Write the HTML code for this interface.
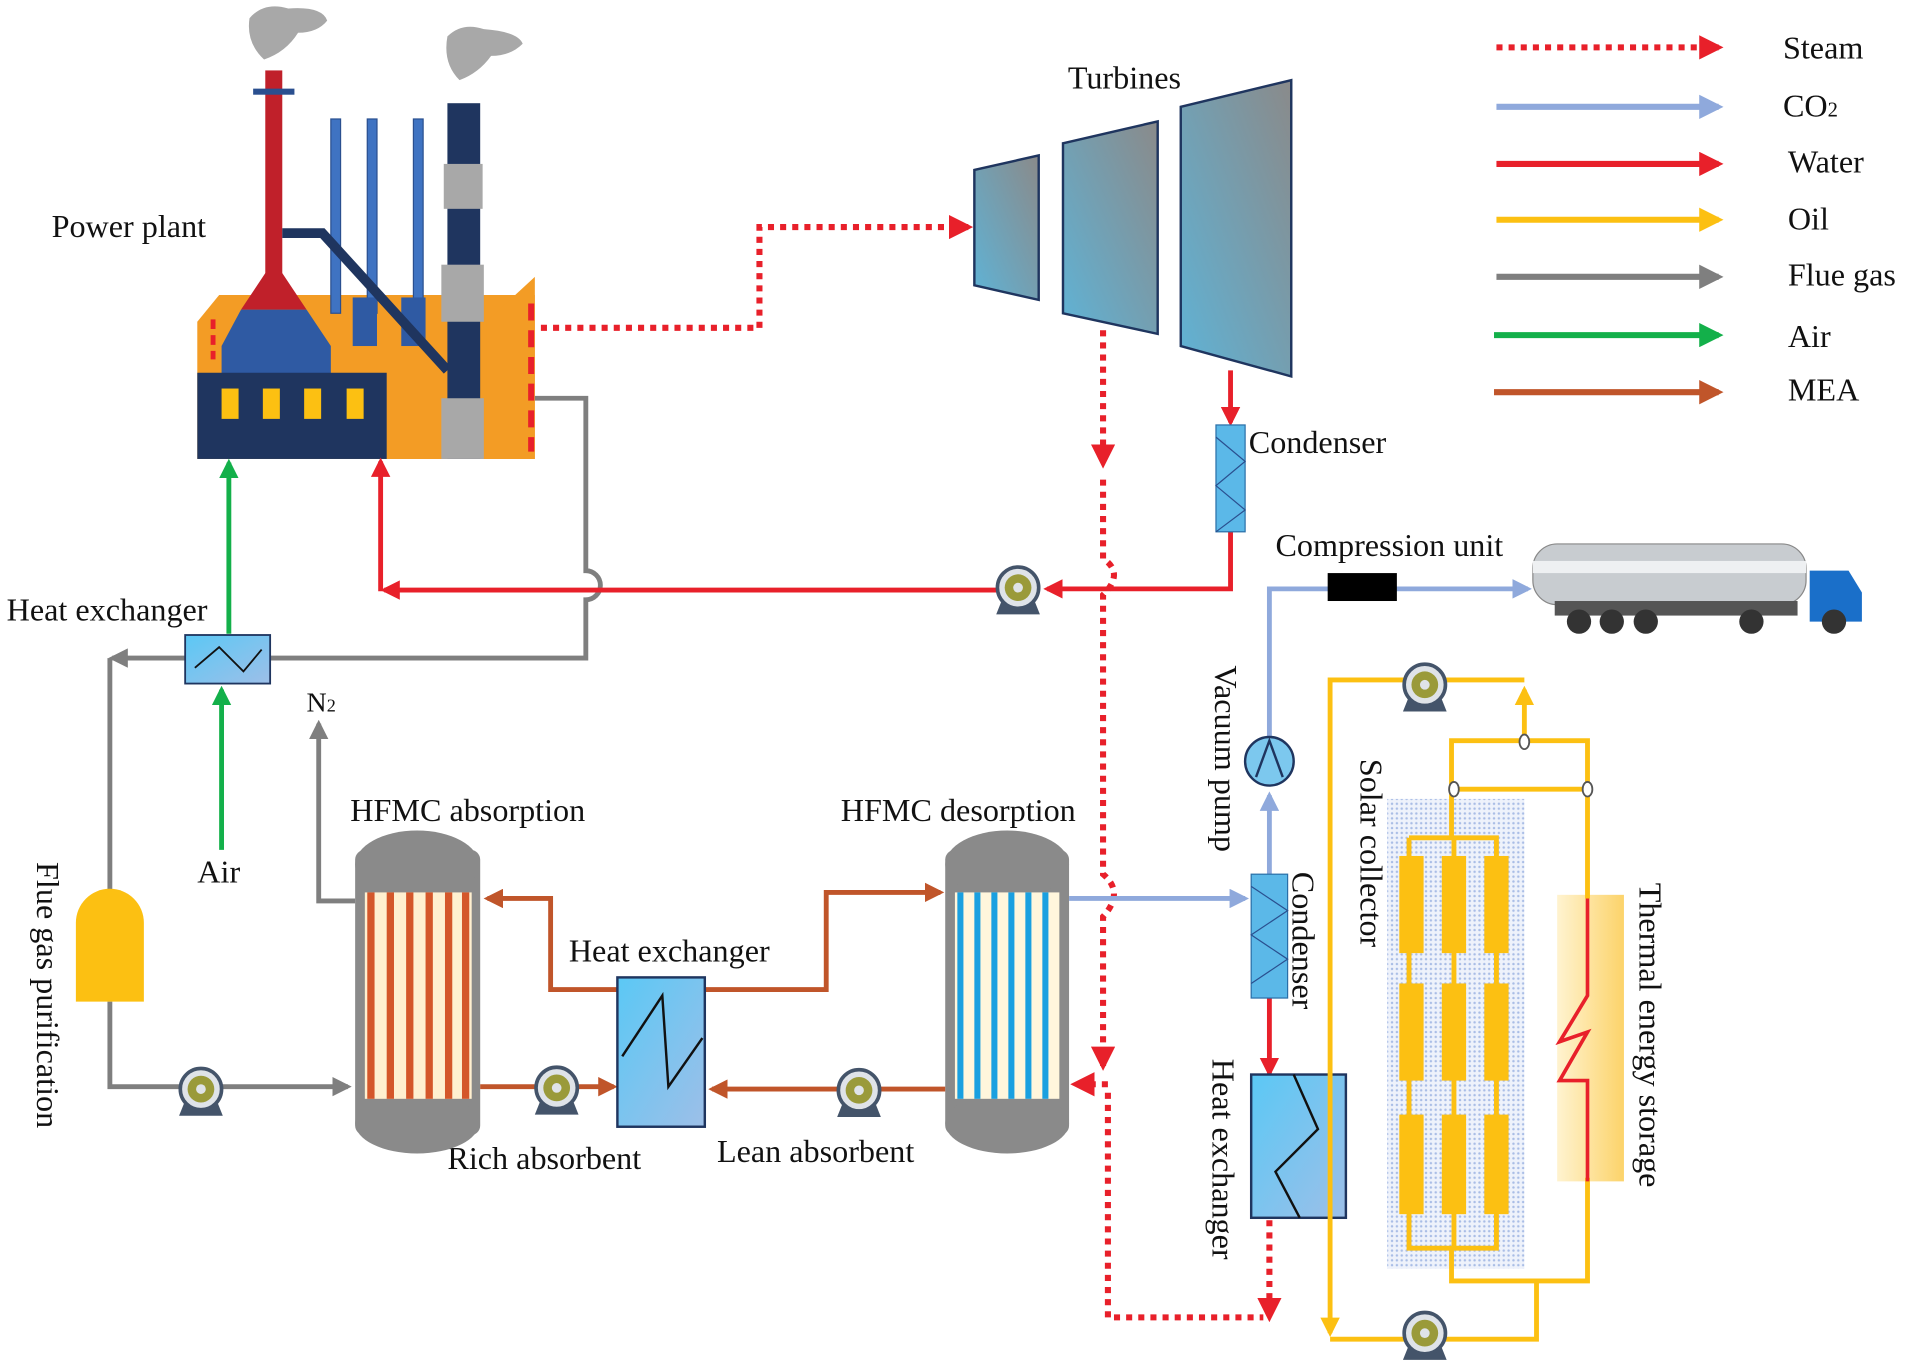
<!DOCTYPE html>
<html><head><meta charset="utf-8"><style>html,body{margin:0;padding:0;background:#fff}svg{display:block}text{font-family:"Liberation Serif",serif;fill:#111}</style></head><body>
<svg width="1905" height="1372" viewBox="0 0 1568 1130" xmlns="http://www.w3.org/2000/svg">
<defs>
<marker id="ar" viewBox="0 0 10 10" refX="8" refY="5" markerWidth="4" markerHeight="4" orient="auto"><path d="M0,0L10,5L0,10z" fill="#e8202a"/></marker>
<marker id="ab" viewBox="0 0 10 10" refX="8" refY="5" markerWidth="4" markerHeight="4" orient="auto"><path d="M0,0L10,5L0,10z" fill="#8fa9dc"/></marker>
<marker id="ay" viewBox="0 0 10 10" refX="8" refY="5" markerWidth="4" markerHeight="4" orient="auto"><path d="M0,0L10,5L0,10z" fill="#fcc012"/></marker>
<marker id="ag" viewBox="0 0 10 10" refX="8" refY="5" markerWidth="4" markerHeight="4" orient="auto"><path d="M0,0L10,5L0,10z" fill="#7f7f7f"/></marker>
<marker id="agr" viewBox="0 0 10 10" refX="8" refY="5" markerWidth="4" markerHeight="4" orient="auto"><path d="M0,0L10,5L0,10z" fill="#13b04a"/></marker>
<marker id="am" viewBox="0 0 10 10" refX="8" refY="5" markerWidth="4" markerHeight="4" orient="auto"><path d="M0,0L10,5L0,10z" fill="#c0552a"/></marker>
<linearGradient id="tg" x1="0" y1="1" x2="1" y2="0"><stop offset="0" stop-color="#5fb3d6"/><stop offset="1" stop-color="#8a8a8a"/></linearGradient>
<linearGradient id="hx" x1="0" y1="0" x2="1" y2="1"><stop offset="0" stop-color="#5bc8f5"/><stop offset="1" stop-color="#9dbfe8"/></linearGradient>
<linearGradient id="ts" x1="0" y1="0" x2="1" y2="0"><stop offset="0" stop-color="#fff3d0"/><stop offset="1" stop-color="#fcd36a"/></linearGradient>
<pattern id="dots" width="4" height="4" patternUnits="userSpaceOnUse"><rect width="4" height="4" fill="#eef2fb"/><circle cx="2" cy="2" r="1" fill="#a9bde6"/></pattern>
<g id="pump"><path d="M-14,12 L14,12 L18,22 L-18,22Z" fill="#44546a"/><circle r="17" fill="#dfe3e8" stroke="#44546a" stroke-width="3"/><circle r="11" fill="#9a9a3a"/><circle r="4" fill="#dfe3e8"/></g>
</defs>

<!-- Legend -->
<g stroke-width="5" fill="none">
<line x1="1232" y1="39" x2="1415" y2="39" stroke="#e8202a" stroke-dasharray="5,5" marker-end="url(#ar)"/>
<line x1="1232" y1="88" x2="1415" y2="88" stroke="#8fa9dc" marker-end="url(#ab)"/>
<line x1="1232" y1="135" x2="1415" y2="135" stroke="#e8202a" marker-end="url(#ar)"/>
<line x1="1232" y1="181" x2="1415" y2="181" stroke="#fcc012" marker-end="url(#ay)"/>
<line x1="1232" y1="228" x2="1415" y2="228" stroke="#7f7f7f" marker-end="url(#ag)"/>
<line x1="1230" y1="276" x2="1415" y2="276" stroke="#13b04a" marker-end="url(#agr)"/>
<line x1="1230" y1="323" x2="1415" y2="323" stroke="#c0552a" marker-end="url(#am)"/>
</g>
<g font-size="26.5">
<text x="1468" y="48">Steam</text><text x="1468" y="96">CO<tspan font-size="17">2</tspan></text>
<text x="1472" y="142">Water</text><text x="1472" y="189">Oil</text><text x="1472" y="235">Flue gas</text>
<text x="1472" y="286">Air</text><text x="1472" y="330">MEA</text>
<text x="42" y="195">Power plant</text><text x="879" y="73">Turbines</text>
<text x="1028" y="373">Condenser</text><text x="1050" y="458">Compression unit</text>
<text x="5" y="511">Heat exchanger</text><text x="252" y="586" font-size="23">N<tspan font-size="15">2</tspan></text>
<text x="162" y="727">Air</text><text x="288" y="676">HFMC absorption</text><text x="692" y="676">HFMC desorption</text>
<text x="468" y="792">Heat exchanger</text><text x="368" y="963">Rich absorbent</text><text x="590" y="957">Lean absorbent</text>
<text transform="translate(30,710) rotate(90)">Flue gas purification</text>
<text transform="translate(1000,548) rotate(90)">Vacuum pump</text>
<text transform="translate(1064,718) rotate(90)">Condenser</text>
<text transform="translate(998,872) rotate(90)">Heat exchanger</text>
<text transform="translate(1120,625) rotate(90)">Solar collector</text>
<text transform="translate(1350,727) rotate(90)">Thermal energy storage</text>
</g>

<!-- Power plant -->
<path d="M205,15 q12,-14 32,-8 q28,-2 32,10 q-8,10 -24,10 q-10,16 -28,22 q-15,-14 -12,-34z" fill="#a8a8a8"/>
<path d="M368,30 q12,-12 30,-6 q28,2 32,12 q-10,10 -26,10 q-10,14 -26,20 q-14,-14 -10,-36z" fill="#a8a8a8"/>
<polygon points="162,265 180,243 440,243 440,378 162,378" fill="#f39c25"/>
<polygon points="400,265 440,228 440,378 400,378" fill="#f39c25"/>
<rect x="272" y="98" width="8" height="160" fill="#3f73c2" stroke="#2a4f8f"/>
<rect x="302" y="98" width="8" height="160" fill="#3f73c2" stroke="#2a4f8f"/>
<rect x="340" y="98" width="8" height="160" fill="#3f73c2" stroke="#2a4f8f"/>
<rect x="290" y="245" width="20" height="40" fill="#2f5aa3"/><rect x="330" y="245" width="20" height="40" fill="#2f5aa3"/>
<rect x="218" y="58" width="14" height="175" fill="#c0202a"/><rect x="208" y="73" width="34" height="5" fill="#2a4f8f"/>
<polygon points="218,225 232,225 252,255 198,255" fill="#c0202a"/>
<polygon points="198,255 252,255 272,285 272,310 182,310 182,285" fill="#2f5aa3"/>
<polyline points="232,192 265,192 368,305" fill="none" stroke="#1f355f" stroke-width="8"/>
<rect x="368" y="85" width="27" height="293" fill="#1f355f"/>
<rect x="365" y="135" width="32" height="37" fill="#a8a8a8"/><rect x="363" y="218" width="35" height="47" fill="#a8a8a8"/><rect x="363" y="328" width="35" height="50" fill="#a8a8a8"/>
<rect x="162" y="307" width="156" height="71" fill="#1f355f"/>
<g fill="#fcc012"><rect x="182" y="320" width="14" height="25"/><rect x="216" y="320" width="14" height="25"/><rect x="250" y="320" width="14" height="25"/><rect x="285" y="320" width="14" height="25"/></g>
<line x1="437" y1="250" x2="437" y2="372" stroke="#e8202a" stroke-width="5" stroke-dasharray="14,8"/>
<line x1="175" y1="263" x2="175" y2="296" stroke="#e8202a" stroke-width="4" stroke-dasharray="8,5"/>

<!-- Turbines -->
<polygon points="802,140 855,128 855,247 802,235" fill="url(#tg)" stroke="#1f355f" stroke-width="2"/>
<polygon points="875,118 953,100 953,275 875,258" fill="url(#tg)" stroke="#1f355f" stroke-width="2"/>
<polygon points="972,88 1063,66 1063,310 972,285" fill="url(#tg)" stroke="#1f355f" stroke-width="2"/>

<!-- Flue gas gray -->
<g fill="none" stroke="#7f7f7f" stroke-width="4">
<path d="M440,328 H482 V470 a12,12 0 0 1 0,24 V542 H92" marker-end="url(#ag)"/>
<path d="M90,542 V735"/>
<path d="M90,825 V895 H286" marker-end="url(#ag)"/>
<path d="M292,742 H262 V596" marker-end="url(#ag)"/>
</g>
<rect x="152" y="523" width="70" height="40" fill="url(#hx)" stroke="#1f355f" stroke-width="1.5"/>
<polyline points="160,550 180,533 200,553 215,535" fill="none" stroke="#111" stroke-width="1.5"/>
<path d="M62,825 V760 a28,28 0 0 1 56,0 V825z" fill="#fcc012"/>
<use href="#pump" x="165" y="897"/>

<!-- Air green -->
<g stroke="#13b04a" stroke-width="4" fill="none">
<path d="M182,700 V568" marker-end="url(#agr)"/><path d="M188,522 V381" marker-end="url(#agr)"/>
</g>

<!-- Water red -->
<g stroke="#e8202a" stroke-width="4" fill="none">
<path d="M1013,305 V348" marker-end="url(#ar)"/>
<path d="M1013,438 V485 H862" marker-end="url(#ar)"/>
<path d="M820,486 H316" marker-end="url(#ar)"/>
<path d="M313,487 V380" marker-end="url(#ar)"/>
<path d="M1045,822 V884" marker-end="url(#ar)"/>
</g>
<rect x="1001" y="350" width="24" height="88" fill="#5bb8e8" stroke="#2a6fa8"/>
<polyline points="1001,360 1025,380 1001,400 1025,420 1001,438" fill="none" stroke="#2a4f8f"/>
<use href="#pump" x="838" y="484"/>

<!-- Steam -->
<g stroke="#e8202a" stroke-width="5" fill="none" stroke-dasharray="5,5">
<path d="M445,270 H625 V187 H797" marker-end="url(#ar)"/>
<path d="M908,272 V382" marker-end="url(#ar)"/>
<path d="M908,395 V460 q18,12 0,30 V720 q18,15 0,35 V878" marker-end="url(#ar)"/>
<path d="M912,893 H885" marker-end="url(#ar)"/>
<path d="M912,900 V1085 H1040"/>
<path d="M1045,1005 V1085" marker-end="url(#ar)"/>
</g>

<!-- Columns -->
<g>
<rect x="292" y="700" width="103" height="235" rx="8" fill="#8a8a8a"/>
<ellipse cx="343" cy="712" rx="51" ry="28" fill="#8a8a8a"/><ellipse cx="343" cy="925" rx="51" ry="25" fill="#8a8a8a"/>
<rect x="300" y="735" width="88" height="170" fill="#fff0d0"/>
<g fill="#d4572a"><rect x="302" y="735" width="6" height="170"/><rect x="318" y="735" width="6" height="170"/><rect x="334" y="735" width="6" height="170"/><rect x="350" y="735" width="6" height="170"/><rect x="366" y="735" width="6" height="170"/><rect x="380" y="735" width="6" height="170"/></g>
<rect x="778" y="700" width="102" height="235" rx="8" fill="#8a8a8a"/>
<ellipse cx="829" cy="712" rx="51" ry="28" fill="#8a8a8a"/><ellipse cx="829" cy="925" rx="51" ry="25" fill="#8a8a8a"/>
<rect x="786" y="735" width="86" height="170" fill="#fff6dc"/>
<g fill="#1aa0e0"><rect x="788" y="735" width="5" height="170"/><rect x="802" y="735" width="5" height="170"/><rect x="816" y="735" width="5" height="170"/><rect x="830" y="735" width="5" height="170"/><rect x="844" y="735" width="5" height="170"/><rect x="858" y="735" width="5" height="170"/></g>
</g>

<!-- MEA -->
<g stroke="#c0552a" stroke-width="4" fill="none">
<path d="M395,895 H440"/><path d="M476,895 H505" marker-end="url(#am)"/>
<path d="M508,815 H453 V740 H401" marker-end="url(#am)"/>
<path d="M580,815 H680 V735 H774" marker-end="url(#am)"/>
<path d="M778,897 H725"/><path d="M690,897 H586" marker-end="url(#am)"/>
</g>
<rect x="508" y="805" width="72" height="123" fill="url(#hx)" stroke="#1f355f" stroke-width="2"/>
<polyline points="512,870 545,820 550,895 578,855" fill="none" stroke="#111" stroke-width="2"/>
<use href="#pump" x="458" y="896"/><use href="#pump" x="707" y="898"/>

<!-- CO2 -->
<g stroke="#8fa9dc" stroke-width="4" fill="none">
<path d="M880,740 H1025" marker-end="url(#ab)"/>
<path d="M1045,720 V655" marker-end="url(#ab)"/>
<path d="M1045,607 V485 H1258" marker-end="url(#ab)"/>
</g>
<rect x="1093" y="472" width="57" height="23" fill="#000"/>
<circle cx="1045" cy="627" r="20" fill="#7cc8ee" stroke="#1f355f" stroke-width="2"/>
<polyline points="1034,640 1045,610 1056,640" fill="none" stroke="#1f355f" stroke-width="2"/>
<rect x="1030" y="720" width="30" height="102" fill="#5bb8e8" stroke="#2a6fa8"/>
<polyline points="1030,730 1060,750 1030,770 1060,790 1030,810" fill="none" stroke="#2a4f8f"/>
<rect x="1030" y="885" width="78" height="118" fill="url(#hx)" stroke="#1f355f" stroke-width="2"/>
<polyline points="1065,885 1085,930 1050,965 1070,1003" fill="none" stroke="#111" stroke-width="2"/>

<!-- Truck -->
<rect x="1262" y="448" width="225" height="50" rx="20" fill="#c8ccd0" stroke="#888"/>
<rect x="1262" y="462" width="225" height="10" fill="#eef0f2"/>
<rect x="1280" y="495" width="200" height="12" fill="#555"/>
<path d="M1490,470 H1522 L1533,488 V512 H1490Z" fill="#1a6fc9"/>
<g fill="#333"><circle cx="1300" cy="512" r="10"/><circle cx="1327" cy="512" r="10"/><circle cx="1355" cy="512" r="10"/><circle cx="1442" cy="512" r="10"/><circle cx="1510" cy="512" r="10"/></g>

<!-- Oil loop -->
<rect x="1142" y="658" width="113" height="387" fill="url(#dots)"/>
<rect x="1282" y="737" width="55" height="236" fill="url(#ts)"/>
<g stroke="#fcc012" stroke-width="4" fill="none">
<path d="M1255,610 V568" marker-end="url(#ay)"/>
<path d="M1255,560 H1095 V1098" marker-end="url(#ay)"/>
<path d="M1195,650 V610 H1307 V740"/><path d="M1195,650 H1307"/>
<path d="M1195,650 V690 M1160,690 H1232 V1028 H1160 V690 M1197,690 V1028 M1195,1028 V1055 H1307 V970"/>
<path d="M1265,1055 V1103 H1095"/>
</g>
<g fill="#fcc012">
<rect x="1152" y="705" width="20" height="80"/><rect x="1187" y="705" width="20" height="80"/><rect x="1222" y="705" width="20" height="80"/>
<rect x="1152" y="810" width="20" height="80"/><rect x="1187" y="810" width="20" height="80"/><rect x="1222" y="810" width="20" height="80"/>
<rect x="1152" y="918" width="20" height="82"/><rect x="1187" y="918" width="20" height="82"/><rect x="1222" y="918" width="20" height="82"/>
</g>
<g fill="#fff" stroke="#555" stroke-width="1.5"><ellipse cx="1255" cy="611" rx="4" ry="6"/><ellipse cx="1197" cy="650" rx="4" ry="6"/><ellipse cx="1307" cy="650" rx="4" ry="6"/></g>
<polyline points="1307,740 1307,820 1284,858 1307,850 1284,890 1307,890 1307,973" fill="none" stroke="#e8202a" stroke-width="3"/>
<use href="#pump" x="1173" y="564"/><use href="#pump" x="1173" y="1098"/>
</svg>
</body></html>
